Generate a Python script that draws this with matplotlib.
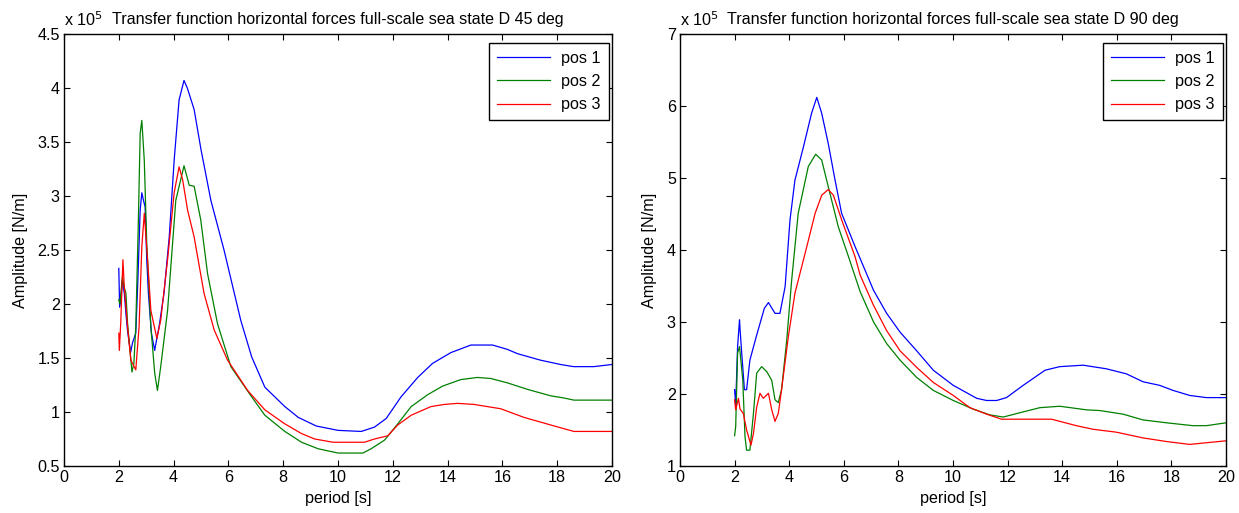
import matplotlib
matplotlib.use("Agg")
import matplotlib.pyplot as plt

plt.rcParams['font.family'] = ['Liberation Sans', 'DejaVu Sans']

# ---------------- data (amplitude in units of 1e5 N/m) ----------------
# sea state D 45 deg
period_45_pos1 = [2.0, 2.03, 2.08, 2.13, 2.2, 2.26, 2.32, 2.43, 2.5, 2.62, 2.7, 2.78, 2.84, 2.9, 2.96,
                  3.02, 3.08, 3.19, 3.31, 3.4, 3.47, 3.65, 3.84, 4.02, 4.2, 4.38, 4.5, 4.75, 5.0, 5.36,
                  5.84, 6.45, 6.85, 7.33, 8.06, 8.55, 9.21, 10.0, 10.85, 11.33, 11.76, 12.3, 12.91,
                  13.45, 14.12, 14.85, 15.64, 16.18, 16.55, 17.39, 18.12, 18.6, 19.33, 20.0]
amp_45_pos1 = [2.33, 1.97, 2.05, 2.22, 2.10, 1.91, 1.75, 1.55, 1.64, 1.73, 2.25, 2.87, 3.03, 2.96, 2.90,
               2.41, 2.10, 1.73, 1.57, 1.70, 1.79, 2.10, 2.62, 3.33, 3.89, 4.07, 4.00, 3.80, 3.43, 2.96,
               2.50, 1.85, 1.51, 1.23, 1.05, 0.95, 0.87, 0.83, 0.82, 0.86, 0.94, 1.14, 1.32,
               1.45, 1.55, 1.62, 1.62, 1.58, 1.54, 1.48, 1.44, 1.42, 1.42, 1.44]

period_45_pos2 = [2.0, 2.04, 2.13, 2.2, 2.26, 2.32, 2.48, 2.55, 2.62, 2.71, 2.78, 2.84, 2.93, 3.02,
                  3.17, 3.31, 3.41, 3.53, 3.78, 4.08, 4.38, 4.57, 4.75, 4.99, 5.24, 5.6, 6.09, 6.85,
                  7.33, 8.06, 8.67, 9.27, 10.0, 10.91, 11.21, 11.7, 12.18, 12.67, 13.27, 13.82, 14.48,
                  15.09, 15.58, 16.18, 16.91, 17.76, 18.24, 18.61, 20.0]
amp_45_pos2 = [2.04, 2.00, 2.25, 2.15, 2.10, 1.82, 1.37, 1.45, 1.79, 2.72, 3.58, 3.70, 3.33, 2.56,
               1.79, 1.36, 1.20, 1.42, 1.94, 2.96, 3.28, 3.10, 3.09, 2.78, 2.28, 1.82, 1.42, 1.14,
               0.97, 0.82, 0.72, 0.66, 0.62, 0.62, 0.66, 0.74, 0.89, 1.05, 1.16, 1.24, 1.30,
               1.32, 1.31, 1.27, 1.21, 1.15, 1.13, 1.11, 1.11]

period_45_pos3 = [2.0, 2.02, 2.07, 2.15, 2.2, 2.32, 2.44, 2.62, 2.74, 2.84, 2.93, 3.05, 3.17, 3.39,
                  3.53, 3.78, 4.02, 4.2, 4.33, 4.51, 4.75, 5.11, 5.48, 5.97, 6.7, 7.33, 8.06, 8.67,
                  9.15, 9.82, 10.97, 11.33, 11.82, 12.18, 12.67, 13.39, 13.88, 14.36, 14.97, 15.94,
                  16.79, 17.76, 18.61, 20.0]
amp_45_pos3 = [1.73, 1.57, 1.82, 2.41, 2.16, 1.79, 1.48, 1.39, 1.79, 2.53, 2.84, 2.41, 1.94, 1.68,
               1.85, 2.41, 3.03, 3.27, 3.15, 2.87, 2.62, 2.10, 1.76, 1.48, 1.20, 1.02, 0.89, 0.80,
               0.75, 0.72, 0.72, 0.75, 0.78, 0.88, 0.97, 1.05, 1.07, 1.08, 1.07, 1.03,
               0.95, 0.88, 0.82, 0.82]

# sea state D 90 deg
period_90_pos1 = [2.0, 2.04, 2.11, 2.18, 2.2, 2.26, 2.36, 2.44, 2.56, 2.81, 3.09, 3.24, 3.48, 3.66,
                  3.85, 4.03, 4.21, 4.52, 4.82, 5.01, 5.19, 5.43, 5.68, 5.92, 6.41, 6.6, 7.09, 7.57,
                  8.06, 8.67, 9.28, 10.01, 10.87, 11.23, 11.6, 11.96, 12.57, 13.37, 13.91, 14.77,
                  15.62, 16.35, 16.96, 17.57, 18.06, 18.67, 19.28, 20.0]
amp_90_pos1 = [2.06, 1.85, 2.66, 3.03, 2.90, 2.57, 2.06, 2.06, 2.47, 2.82, 3.19, 3.27, 3.12, 3.12,
               3.49, 4.42, 4.97, 5.43, 5.90, 6.12, 5.90, 5.48, 4.97, 4.51, 4.05, 3.88, 3.44, 3.12,
               2.86, 2.60, 2.33, 2.12, 1.94, 1.91, 1.91, 1.95, 2.12, 2.33, 2.38, 2.40,
               2.35, 2.28, 2.17, 2.12, 2.05, 1.98, 1.95, 1.95]

period_90_pos2 = [2.0, 2.04, 2.11, 2.18, 2.3, 2.38, 2.44, 2.56, 2.69, 2.81, 2.99, 3.18, 3.36, 3.48,
                  3.6, 3.72, 3.91, 4.09, 4.33, 4.7, 4.97, 5.19, 5.43, 5.8, 6.17, 6.6, 7.09, 7.57,
                  8.06, 8.67, 9.28, 10.01, 10.74, 11.35, 11.84, 12.45, 13.18, 13.91, 14.89, 15.38,
                  16.23, 16.96, 17.82, 18.79, 19.28, 20.0]
amp_90_pos2 = [1.42, 1.55, 2.57, 2.66, 2.19, 1.41, 1.22, 1.22, 1.73, 2.29, 2.38, 2.31, 2.19, 1.92,
               1.88, 2.06, 2.75, 3.58, 4.51, 5.16, 5.33, 5.25, 4.88, 4.32, 3.91, 3.42, 3.00, 2.70,
               2.47, 2.23, 2.05, 1.91, 1.79, 1.71, 1.68, 1.74, 1.81, 1.83, 1.78, 1.77,
               1.72, 1.64, 1.60, 1.56, 1.56, 1.60]

period_90_pos3 = [2.0, 2.04, 2.14, 2.2, 2.32, 2.44, 2.6, 2.69, 2.81, 2.93, 3.05, 3.24, 3.36, 3.48,
                  3.6, 3.72, 3.97, 4.21, 4.58, 4.95, 5.19, 5.43, 5.62, 5.92, 6.41, 6.6, 7.09, 7.57,
                  8.06, 8.67, 9.28, 10.01, 10.62, 11.23, 11.78, 13.61, 14.52, 15.13, 15.98, 16.96,
                  17.82, 18.67, 20.0]
amp_90_pos3 = [1.92, 1.78, 1.94, 1.79, 1.73, 1.50, 1.29, 1.45, 1.82, 2.01, 1.94, 2.01, 1.78, 1.62,
               1.73, 2.06, 2.80, 3.40, 3.95, 4.51, 4.76, 4.84, 4.76, 4.42, 3.91, 3.65, 3.23, 2.88,
               2.60, 2.37, 2.16, 1.98, 1.81, 1.72, 1.65, 1.65, 1.56, 1.51, 1.47, 1.39,
               1.34, 1.30, 1.35]

series_labels = ['pos 1', 'pos 2', 'pos 3']
series_colors = ['#0000ff', '#008000', '#ff0000']

titles = ['Transfer function horizontal forces full-scale sea state D 45 deg',
          'Transfer function horizontal forces full-scale sea state D 90 deg']
x_ticks = [0, 2, 4, 6, 8, 10, 12, 14, 16, 18, 20]
y_ticks_45 = [0.5, 1, 1.5, 2, 2.5, 3, 3.5, 4, 4.5]
y_ticks_90 = [1, 2, 3, 4, 5, 6, 7]

# ---------------- figure ----------------
W, H = 1239, 513
fig = plt.figure(figsize=(W / 100, H / 100), dpi=100)

def ax_rect(x0, x1, y0, y1):
    return [x0 / W, 1 - y1 / H, (x1 - x0) / W, (y1 - y0) / H]

ax1 = fig.add_axes(ax_rect(64, 612, 34, 466))
ax2 = fig.add_axes(ax_rect(680, 1226, 34, 466))

panels = [
    (ax1, [(period_45_pos1, amp_45_pos1), (period_45_pos2, amp_45_pos2), (period_45_pos3, amp_45_pos3)],
     titles[0], y_ticks_45, (0.5, 4.5)),
    (ax2, [(period_90_pos1, amp_90_pos1), (period_90_pos2, amp_90_pos2), (period_90_pos3, amp_90_pos3)],
     titles[1], y_ticks_90, (1, 7)),
]

fs = 11.6
for ax, series, title, yt, ylim in panels:
    for (px, py), lab, col in zip(series, series_labels, series_colors):
        ax.plot(px, py, color=col, lw=0.9, label=lab)
    ax.set_xlim(0, 20)
    ax.set_ylim(*ylim)
    ax.set_xticks(x_ticks)
    ax.set_xticklabels([str(t) for t in x_ticks])
    ax.set_yticks(yt)
    ax.set_yticklabels([('%g' % t) for t in yt])
    ax.tick_params(direction='in', length=4, width=0.8, top=True, right=True,
                   labelsize=fs, colors='black', pad=3)
    for s in ax.spines.values():
        s.set_linewidth(1.0)
        s.set_color('black')
    ax.set_xlabel('period [s]', fontsize=fs, labelpad=4)
    ax.set_ylabel('Amplitude [N/m]', fontsize=fs, labelpad=7)
    ax.set_title(title, fontsize=fs, pad=7)
    ax.text(0.0, 1.012, r'x 10$^{5}$', transform=ax.transAxes, fontsize=fs,
            ha='left', va='bottom')
    bb = ax.get_position()
    axw = bb.width * W
    axh = bb.height * H
    leg = ax.legend(loc='upper right', bbox_to_anchor=(1 - 3 / axw, 1 - 9 / axh),
                    borderaxespad=0, fancybox=False, framealpha=1, edgecolor='black',
                    fontsize=fs, handlelength=3.3, labelspacing=0.5, handletextpad=0.7,
                    borderpad=0.5)
    leg.get_frame().set_linewidth(1.0)

fig.savefig('out.png', dpi=100, facecolor='white')
